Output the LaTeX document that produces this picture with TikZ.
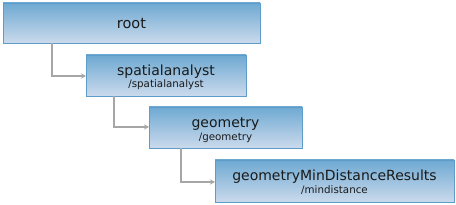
\documentclass[tikz,border=0pt]{standalone}
\usepackage{fontspec}
\setmainfont{DejaVu Sans}
\usetikzlibrary{arrows.meta}
\definecolor{boxtop}{HTML}{6EA9D2}
\definecolor{boxbot}{HTML}{CBDAEC}
\definecolor{boxline}{HTML}{5E9CC9}
\definecolor{conn}{HTML}{A6A6A6}
\definecolor{txt}{HTML}{1A1A1A}
\tikzset{
  box/.style={draw=boxline, line width=0.8pt, top color=boxtop, bottom color=boxbot, inner sep=0pt},
  ttl/.style={text=txt, font=\fontsize{14}{16}\selectfont, inner sep=0pt, anchor=base},
  sub/.style={text=txt, font=\fontsize{10.3}{12}\selectfont, inner sep=0pt, anchor=base},
  conn/.style={draw=conn, line width=1.4pt, -{Stealth[length=5pt,width=5pt]}}
}
\begin{document}
\begin{tikzpicture}[x=1pt,y=-1pt]
\useasboundingbox[fill=white] (0,0) rectangle (456,205);
% boxes
\path[box] (3,3) rectangle (260,43);
\path[box] (86,55) rectangle (246,96);
\path[box] (149,107) rectangle (302,148);
\path[box] (215,160) rectangle (454,202);
% texts
\node[ttl, font=\fontsize{14.5}{16}\selectfont] (rt) at (131.5,28.3) {root};
\node[ttl] (st) at (166,75.3) {spatialanalyst};
\node[sub] (ss) at (166,88) {/spatialanalyst};
\node[ttl] (gt) at (225.5,127.5) {geometry};
\node[sub] (gs) at (225.5,140.2) {/geometry};
\node[ttl] (mt) at (334.5,181) {geometryMinDistanceResults};
\node[sub] (ms) at (334.5,193.7) {/mindistance};
% connectors
\coordinate (c1) at (52,43);
\coordinate (e1) at (86,76);
\coordinate (c2) at (114,96);
\coordinate (e2) at (149,127);
\coordinate (c3) at (181,148);
\coordinate (e3) at (215,182);
\draw[conn] (c1) |- (e1);
\draw[conn] (c2) |- (e2);
\draw[conn] (c3) |- (e3);
\end{tikzpicture}
\end{document}
